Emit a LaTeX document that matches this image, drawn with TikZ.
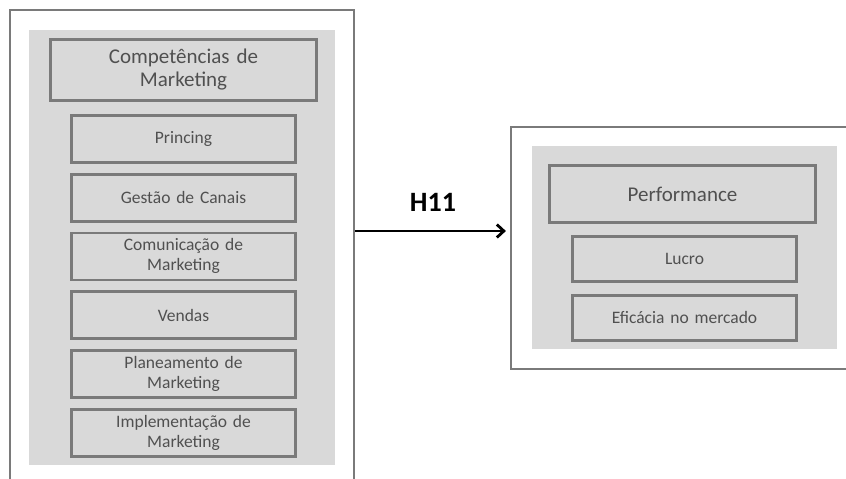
\documentclass[tikz,border=0pt]{standalone}
\usepackage{fontspec}
\setmainfont{Carlito}
\usepackage{tikz}
\usetikzlibrary{positioning,arrows.meta}

\definecolor{panelgrey}{HTML}{D9D9D9}
\definecolor{edgegrey}{HTML}{7A7A7A}
\definecolor{textgrey}{HTML}{505050}

\begin{document}
\begin{tikzpicture}[x=1pt, y=-1pt,
  frame/.style={rectangle, draw=edgegrey, line width=2.2pt, fill=white},
  panel/.style={rectangle, fill=panelgrey},
  headbox/.style={rectangle, draw=edgegrey, line width=2.8pt, fill=panelgrey, text=textgrey,
    minimum width=266pt, text width=250pt, align=center,
    font=\fontsize{21}{23}\selectfont},
  item/.style={rectangle, draw=edgegrey, line width=2.8pt, fill=panelgrey, text=textgrey,
    minimum width=224pt, minimum height=47pt, text width=210pt, align=center,
    font=\fontsize{17.5}{20}\selectfont},
  link/.style={-{Straight Barb[length=7pt,width=13pt,line width=2.8pt]}, line width=2.8pt, black},
]
\useasboundingbox (0,0) rectangle (846,479);

% left block
\node(leftframe) [frame, minimum width=344pt, minimum height=480pt] at (182,250){};
\node(leftpanel) [panel, minimum width=306pt, minimum height=435pt] at (182,247.5){};
\node(comp) [headbox, minimum height=61pt] at (183.5,70){Competências de\\Marketing};
\node(princing) [item, below=12pt of comp.south, anchor=north]{Princing};
\node(canais) [item, below=9pt of princing]{Gestão de Canais};
\node(comunic) [item, below=9pt of canais]{Comunicação de\\Marketing};
\node(vendas) [item, below=9pt of comunic]{Vendas};
\node(planeam) [item, below=9pt of vendas]{Planeamento de\\Marketing};
\node(implem) [item, below=9pt of planeam]{Implementação de\\Marketing};

% right block
\node(rightframe) [frame, minimum width=345pt, minimum height=242pt] at (683.5,248){};
\node(rightpanel) [panel, minimum width=305pt, minimum height=203pt] at (684.5,247.5){};
\node(perf) [headbox, minimum height=57pt] at (682.5,194){Performance};
\node(lucro) [item, minimum height=45pt, below=11pt of perf.south, anchor=north, xshift=2pt]{Lucro};
\node(eficacia) [item, minimum height=45pt, below=11pt of lucro]{Eficácia no mercado};

% hypothesis
\coordinate(hline) at (430,231);
\draw[link] (leftframe.east |- hline) -- ([xshift=-4pt]rightframe.west |- hline);
\node(h11) [font=\bfseries\fontsize{28}{30}\selectfont] at (433,202){H11};

\end{tikzpicture}
\end{document}
